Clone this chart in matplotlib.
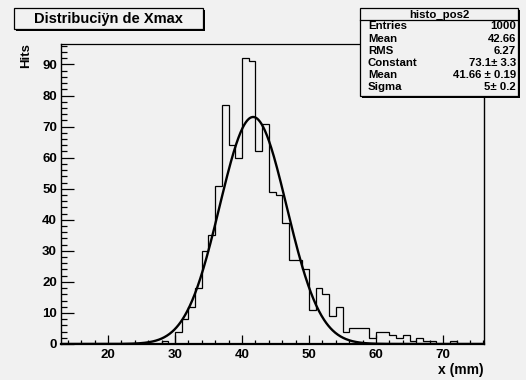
import numpy as np
import matplotlib
matplotlib.use("Agg")
import matplotlib.pyplot as plt
from matplotlib.patches import Rectangle
from matplotlib.lines import Line2D
from matplotlib.ticker import MultipleLocator

plt.rcParams["font.family"] = ["Liberation Sans", "DejaVu Sans"]
plt.rcParams["font.weight"] = "bold"

# histogram: unit-width bins from 13 to 76
bin_low = 13
bin_high = 76
counts = [
    0, 0, 0, 0, 0, 0, 0, 0, 0, 0, 0, 0, 0, 0, 0,      # 13-27
    1, 0, 4, 8, 12, 18, 30, 35, 51, 77,                # 28-37
    64, 60, 92, 91, 62, 71, 49, 48, 39, 27,            # 38-47
    27, 24, 11, 18, 16, 9, 12, 4, 5, 5,                # 48-57
    5, 2, 4, 4, 3, 2, 3, 1, 2, 1,                      # 58-67
    1, 0, 0, 1, 0, 0, 0, 0,                            # 68-75
]

# gaussian fit parameters
fit_constant = 73.1
fit_mean = 41.66
fit_sigma = 5.0

title = "Distribuciÿn de Xmax"
hist_name = "histo_pos2"
stat_names = ["Entries", "Mean", "RMS", "Constant", "Mean", "Sigma"]
stat_values = ["1000", "42.66", "6.27", "73.1\u00b1 3.3", "41.66 \u00b1 0.19", "5\u00b1 0.2"]
x_label = "x (mm)"
y_label = "Hits"

bg = "#f1f1f1"
W, H = 526, 380

fig = plt.figure(figsize=(W / 100, H / 100), dpi=100, facecolor=bg)


def fx(px):
    return px / W


def fy(py):
    return 1 - py / H


ax = fig.add_axes([fx(61), fy(344), (484 - 61) / W, (344 - 44) / H])
ax.set_facecolor(bg)

edges = np.arange(bin_low, bin_high + 1)
ax.stairs(counts, edges, color="black", lw=0.9, baseline=0)

xs = np.linspace(bin_low, 76.1, 800)
ax.plot(xs, fit_constant * np.exp(-0.5 * ((xs - fit_mean) / fit_sigma) ** 2),
        color="black", lw=1.7)

ax.set_xlim(bin_low, 76.1)
ax.set_ylim(0, 96.6)

ax.xaxis.set_major_locator(MultipleLocator(10))
ax.xaxis.set_minor_locator(MultipleLocator(2))
ax.yaxis.set_major_locator(MultipleLocator(10))
ax.yaxis.set_minor_locator(MultipleLocator(2))
ax.tick_params(axis="x", which="major", direction="in", length=6.5, width=0.9,
               labelsize=9.5, pad=3.6, top=False)
ax.tick_params(axis="x", which="minor", direction="in", length=3.2, width=0.9, top=False)
ax.tick_params(axis="y", which="major", direction="in", length=9.1, width=0.9,
               labelsize=9.5, pad=2.9, right=False)
ax.tick_params(axis="y", which="minor", direction="in", length=4.6, width=0.9, right=False)
for lab in ax.get_xticklabels() + ax.get_yticklabels():
    lab.set_fontweight("bold")

ax.spines["bottom"].set_linewidth(1.6)
ax.spines["left"].set_linewidth(1.0)
ax.spines["right"].set_linewidth(1.0)
ax.spines["top"].set_linewidth(0.9)

fig.text(fx(484), fy(370), x_label, ha="right", va="center", fontsize=10, fontweight="bold")
fig.text(fx(26.5), fy(43), y_label, ha="center", va="top", rotation=90,
         fontsize=9.5, fontweight="bold")


def shadow_box(x0, y0, x1, y1):
    fig.patches.append(Rectangle((fx(x0 + 2), fy(y1 + 2)), (x1 - x0) / W, (y1 - y0) / H,
                                 transform=fig.transFigure, facecolor="black",
                                 edgecolor="black", lw=0, zorder=5))
    fig.patches.append(Rectangle((fx(x0), fy(y1)), (x1 - x0) / W, (y1 - y0) / H,
                                 transform=fig.transFigure, facecolor=bg,
                                 edgecolor="black", lw=0.9, zorder=6))


# title box
shadow_box(14, 8, 203, 29)
fig.text(fx(108.5), fy(18.5), title, ha="center", va="center", fontsize=10.5,
         fontweight="bold", zorder=7)

# statistics box
stat_size = 8.2
shadow_box(360, 8, 518, 96)
fig.lines.append(Line2D([fx(360), fx(518)], [fy(20), fy(20)], transform=fig.transFigure,
                        color="black", lw=0.9, zorder=7))
fig.text(fx(439), fy(17.5), hist_name, ha="center", va="baseline", fontsize=stat_size,
         fontweight="bold", zorder=7)
row_base = [29.2, 42.0, 54.5, 66.5, 78.0, 89.5]
for name, val, yy in zip(stat_names, stat_values, row_base):
    fig.text(fx(368), fy(yy), name, ha="left", va="baseline", fontsize=stat_size,
             fontweight="bold", zorder=7)
    fig.text(fx(516), fy(yy), val, ha="right", va="baseline", fontsize=stat_size,
             fontweight="bold", zorder=7)

fig.savefig("out.png", dpi=100, facecolor=bg)
